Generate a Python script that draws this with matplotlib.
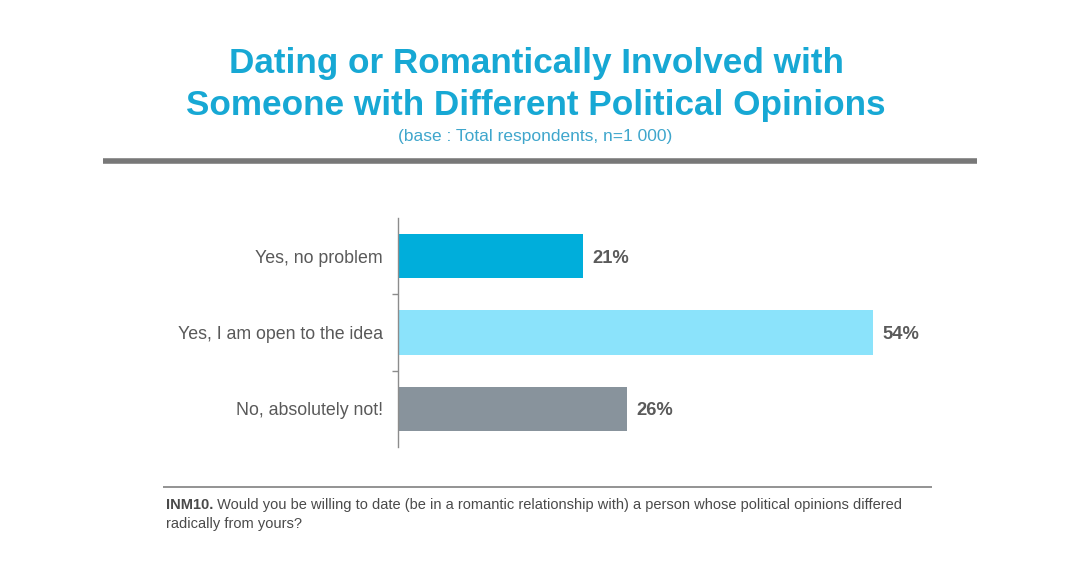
import matplotlib
matplotlib.use("Agg")
import matplotlib.pyplot as plt
from matplotlib.lines import Line2D

categories = ["Yes, no problem", "Yes, I am open to the idea", "No, absolutely not!"]
values = [21, 54, 26]
value_labels = ["21%", "54%", "26%"]
colors = ["#00AEDB", "#8BE3FB", "#88939C"]

title_lines = ["Dating or Romantically Involved with", "Someone with Different Political Opinions"]
subtitle = "(base : Total respondents, n=1 000)"
foot_bold = "INM10."
foot_rest_1 = " Would you be willing to date (be in a romantic relationship with) a person whose political opinions differed"
foot_rest_2 = "radically from yours?"

plt.rcParams['font.family'] = ['Liberation Sans', 'DejaVu Sans']

W, H = 1081, 584
fig = plt.figure(figsize=(W / 100, H / 100), dpi=100)
fig.patch.set_facecolor("white")

def fx(px):
    return px / W

def fy(py):
    return 1 - py / H

# Axes
x_max = 60
ax_left, ax_right = 398, 398 + 8.8 * x_max
ax_top, ax_bot = 218, 447
ax = fig.add_axes([fx(ax_left), fy(ax_bot), fx(ax_right) - fx(ax_left), (ax_bot - ax_top) / H])
ypos = list(range(len(categories)))
ax.barh(ypos, values, height=0.58, color=colors)
ax.set_xlim(0, x_max)
ax.set_ylim(2.5, -0.5)
for s in ["top", "right", "bottom"]:
    ax.spines[s].set_visible(False)
ax.spines["left"].set_color("#8C8C8C")
ax.spines["left"].set_linewidth(1.0)
ax.set_xticks([])
ax.set_yticks(ypos)
ax.set_yticklabels(categories, fontsize=12.8, color="#595959")
ax.tick_params(axis="y", which="major", length=0, pad=11)
ax.set_yticks([0.5, 1.5], minor=True)
ax.tick_params(axis="y", which="minor", length=4, color="#8C8C8C", width=1)
for y, v, lab in zip(ypos, values, value_labels):
    ax.annotate(lab, (v, y), xytext=(7, -1.5), textcoords="offset points",
                va="center", ha="left", fontsize=13.2, fontweight="bold", color="#5A5A5A")

# Title
title_color = "#17A8D4"
fig.text(fx(536), fy(63), title_lines[0], ha="center", va="center", fontsize=25.3,
         fontweight="bold", color=title_color)
fig.text(fx(536), fy(105), title_lines[1], ha="center", va="center", fontsize=25.3,
         fontweight="bold", color=title_color)
fig.text(fx(535), fy(136), subtitle, ha="center", va="center", fontsize=12.5,
         color="#3FA6CC")

# Separator lines
fig.add_artist(Line2D([fx(103), fx(977)], [fy(160.5), fy(160.5)], color="#787878",
                      linewidth=4, solid_capstyle="butt"))
fig.add_artist(Line2D([fx(163), fx(932)], [fy(487), fy(487)], color="#808080",
                      linewidth=1.2, solid_capstyle="butt"))

# Footnote
fs = 10.5
t1 = fig.text(fx(166), fy(505), foot_bold, ha="left", va="center", fontsize=fs,
              fontweight="bold", color="#4A4A4A")
fig.canvas.draw()
bb = t1.get_window_extent(fig.canvas.get_renderer())
fig.text(bb.x1 / W, fy(505), foot_rest_1, ha="left", va="center", fontsize=fs, color="#4A4A4A")
fig.text(fx(166), fy(524), foot_rest_2, ha="left", va="center", fontsize=fs, color="#4A4A4A")

fig.savefig("out.png", dpi=100, facecolor="white")
